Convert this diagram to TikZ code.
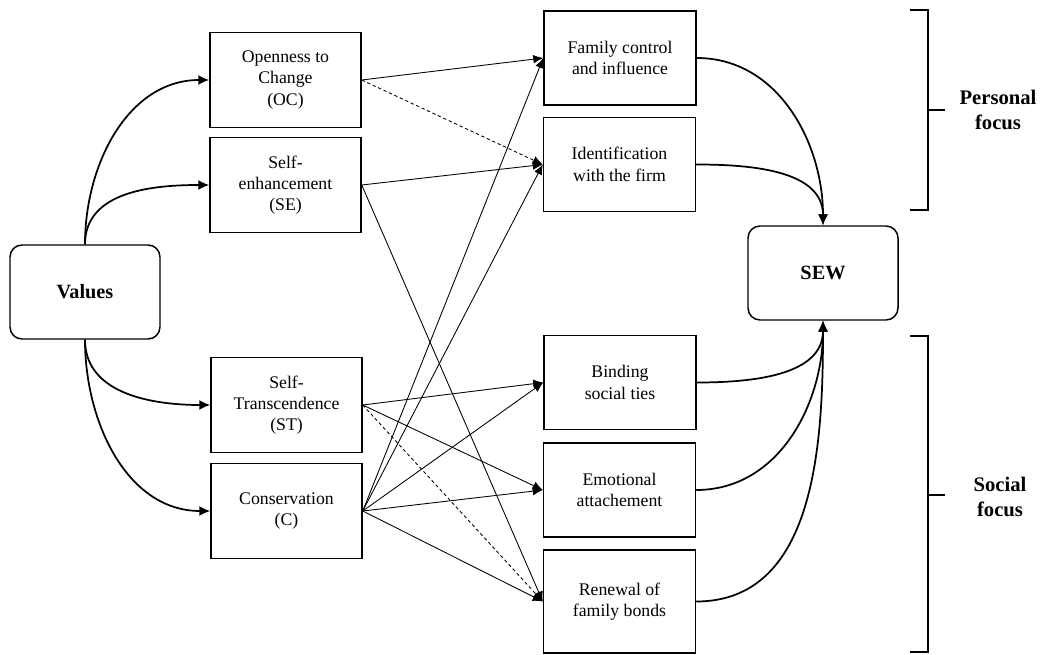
\documentclass[tikz,border=0pt]{standalone}
\usepackage{fontspec}
\setmainfont{Liberation Serif}
\usetikzlibrary{arrows.meta}

\begin{document}
\begin{tikzpicture}[x=0.75pt,y=-0.75pt,
  box/.style={draw, line width=1.1pt, align=center, inner sep=0pt,
    font=\fontsize{13.3}{16}\selectfont},
  leftbox/.style={box, minimum width=113.25pt, minimum height=71.25pt},
  midbox/.style={box, minimum width=114pt, minimum height=70.5pt},
  roundbox/.style={box, rounded corners=9pt, minimum width=112.5pt, minimum height=70.5pt,
    font=\fontsize{15.2}{18}\selectfont\bfseries},
  focuslabel/.style={align=center, inner sep=0pt, font=\fontsize{15.5}{19}\selectfont\bfseries},
  thick arrow/.style={line width=1.3pt, -{Latex[length=8.25pt,width=7.5pt]}},
  thin arrow/.style={line width=0.65pt, -{Latex[length=7.5pt,width=6.5pt]}},
  dashed arrow/.style={thin arrow, dash pattern=on 2.5pt off 2pt},
  bracket/.style={line width=1.2pt}
]
\useasboundingbox (0,0) rectangle (1044,655);

% left column: value dimensions
\node[roundbox] (values) at (85,292) {Values};
\node[leftbox] (oc) at (285.5,80) {Openness to\\Change\\(OC)};
\node[leftbox] (se) at (285.5,185) {Self-\\enhancement\\(SE)};
\node[leftbox] (st) at (286.5,405) {Self-\\Transcendence\\(ST)};
\node[leftbox] (cons) at (286.5,511) {Conservation\\(C)};

% middle column: SEW dimensions
\node[midbox] (fci) at (620,58) {Family control\\and influence};
\node[midbox] (idf) at (619.5,164.5) {Identification\\with the firm};
\node[midbox] (bst) at (620,382.5) {Binding\\social ties};
\node[midbox] (emo) at (619.5,490) {Emotional\\attachement};
\node[midbox, minimum height=77pt] (ren) at (619.5,601.5) {Renewal of\\family bonds};

% outcome
\node[roundbox] (sew) at (823,273) {SEW};

% Values to its four dimensions
\draw[thick arrow] (values.north) to[out=90,in=180] (oc.west);
\draw[thick arrow] (values.north) to[out=90,in=180] (se.west);
\draw[thick arrow] (values.south) to[out=-90,in=180] (st.west);
\draw[thick arrow] (values.south) to[out=-90,in=180] (cons.west);

% hypothesised links
\draw[thin arrow] (oc.east) -- (fci.west);
\draw[dashed arrow] (oc.east) -- (idf.west);
\draw[thin arrow] (se.east) -- (idf.west);
\draw[thin arrow] (se.east) -- (ren.west);
\draw[thin arrow] (st.east) -- (bst.west);
\draw[thin arrow] (st.east) -- (emo.west);
\draw[dashed arrow] (st.east) -- (ren.west);
\draw[thin arrow] (cons.east) -- (fci.west);
\draw[thin arrow] (cons.east) -- (idf.west);
\draw[thin arrow] (cons.east) -- (bst.west);
\draw[thin arrow] (cons.east) -- (emo.west);
\draw[thin arrow] (cons.east) -- (ren.west);

% dimensions to SEW
\draw[thick arrow] (fci.east) to[out=0,in=90] (sew.north);
\draw[thick arrow] (idf.east) to[out=0,in=90] (sew.north);
\draw[thick arrow] (bst.east) to[out=0,in=-90] (sew.south);
\draw[thick arrow] (emo.east) to[out=0,in=-90] (sew.south);
\draw[thick arrow] (ren.east) to[out=0,in=-90] (sew.south);

% focus brackets
\coordinate (pt) at (928,10);
\coordinate (pb) at (928,210);
\coordinate (st1) at (928,336);
\coordinate (sb) at (928,652);
\draw[bracket] (910,10) -- (pt) -- (pb) -- (910,210);
\draw[bracket] (928,110) -- (945,110);
\draw[bracket] (910,336) -- (st1) -- (sb) -- (910,652);
\draw[bracket] (928,495) -- (945,495);
\node[focuslabel] (pf) at (998,110) {Personal\\focus};
\node[focuslabel] (sf) at (1000,497) {Social\\focus};
\end{tikzpicture}
\end{document}
